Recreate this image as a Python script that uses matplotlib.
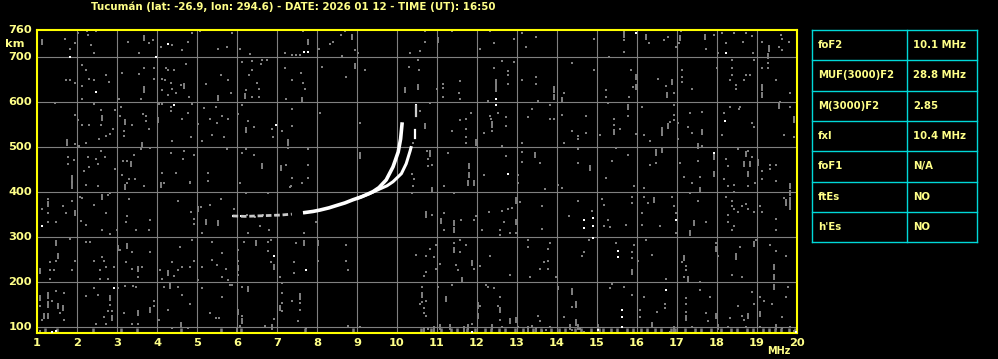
import numpy as np
import matplotlib
matplotlib.use("Agg")
import matplotlib.pyplot as plt

W, H = 998, 359

# ---- data ----
title = "Tucumán (lat: -26.9, lon: 294.6) - DATE: 2026 01 12 - TIME (UT): 16:50"
freq_ticks = list(range(1, 21))
height_ticks = [100, 200, 300, 400, 500, 600, 700, 760]

param_names = ["foF2", "MUF(3000)F2", "M(3000)F2", "fxI", "foF1", "ftEs", "h'Es"]
param_values = ["10.1 MHz", "28.8 MHz", "2.85", "10.4 MHz", "N/A", "NO", "NO"]

# O-mode trace (weak lower part, then strong part)
o_weak_f = [5.89, 6.2, 6.5, 6.8, 7.1, 7.37]
o_weak_h = [347, 346, 347, 348, 349, 351]
o_f = [7.65, 7.9, 8.07, 8.3, 8.48, 8.7, 8.9, 9.1, 9.23, 9.4, 9.55, 9.73, 9.9, 10.03, 10.09, 10.13]
o_h = [354, 357, 360, 365, 370, 376, 383, 389, 394, 401, 410, 427, 456, 489, 518, 555]
# X-mode trace
x_f = [9.0, 9.3, 9.57, 9.75, 9.9, 10.11, 10.23, 10.33, 10.36]
x_h = [386, 396, 407, 414, 423, 441, 463, 492, 502]
x_top_f = [10.44, 10.44]
x_top_h = [520, 538]
x_top2_f = [10.48, 10.48]
x_top2_h = [568, 592]

# scattered noise: single dots (freq MHz, height km)
noise_dots = [
    (1.69,740),(1.83,717),(1.94,731),(2.03,753),(2.24,757),(2.28,749),(2.35,727),(2.48,757),(2.43,708),(3.28,734),
    (3.55,708),(3.8,731),(3.9,738),(4.1,723),(4.37,726),(4.63,716),(4.78,734),(4.88,753),(5.08,757),(5.53,717),
    (5.75,723),(5.88,753),(6.08,717),(6.33,707),(7.2,708),(2.13,682),(2.23,672),(2.12,635),(2.3,652),(2.43,648),
    (2.73,660),(2.8,644),(2.13,607),(1.73,648),(1.83,648),(1.95,642),(3.13,665),(3.55,662),(3.68,675),(3.93,675),
    (3.93,652),(3.59,607),(3.05,607),(4.22,675),(4.28,671),(4.43,671),(4.13,652),(4.2,648),(4.34,642),(4.38,630),
    (4.13,626),(4.28,615),(4.6,637),(4.73,684),(4.8,611),(4.47,619),(5.23,639),(5.59,661),(5.78,648),(5.84,620),
    (6.13,690),(6.38,691),(6.63,693),(6.75,693),(6.38,671),(6.3,661),(6.6,684),(6.49,643),(6.23,626),(6.38,611),
    (6.55,611),(6.55,628),(7.19,675),(7.23,607),(1.44,598),(1.95,572),(2.03,560),(2.13,548),(2.3,549),(2.43,596),
    (2.6,582),(2.59,549),(2.72,525),(2.55,518),(1.95,507),(2.05,503),(2.23,508),(2.82,528),(2.9,540),(2.95,582),
    (3.1,589),(3.08,568),(3.18,535),(3.18,525),(3.38,548),(3.65,574),(3.72,570),(3.73,557),(3.8,540),(4.34,590),
    (4.34,580),(4.63,563),(4.78,575),(4.87,595),(4.85,523),(4.38,513),(5.03,551),(5.18,587),(5.33,563),(5.48,590),
    (5.5,553),(5.63,570),(5.78,562),(5.38,527),(5.68,522),(5.13,514),(6.02,574),(6.13,593),(6.28,558),(6.43,544),
    (6.87,540),(6.9,523),(7.13,535),(1.78,477),(1.78,463),(1.93,472),(1.88,422),(2.28,477),(2.48,473),(2.59,492),
    (2.7,477),(2.53,462),(2.3,456),(2.18,446),(2.94,451),(3.15,469),(3.25,468),(3.13,437),(3.3,428),(3.45,428),
    (3.43,483),(3.6,496),(3.83,499),(4.13,442),(4.34,486),(4.48,442),(4.68,492),(4.65,473),(4.93,483),(4.83,422),
    (5.28,442),(5.28,425),(5.75,496),(6.13,486),(6.23,495),(6.43,483),(7.23,460),(7.28,499),(4.05,595),(4.12,595),
    (7.65,757),(8.4,734),(8.32,729),(8.69,757),(8.61,749),(8.63,702),(8.05,717),(8.94,716),(9.03,708),(8.13,678),
    (9.19,671),(8.73,656),(7.59,665),(7.38,648),(7.65,643),(7.69,630),(10.33,708),(10.58,713),(10.69,734),(10.69,757),
    (11.38,757),(10.3,678),(10.53,693),(10.55,671),(11.0,628),(11.15,641),(11.15,631),(11.15,611),(11.58,647),(11.55,619),
    (11.58,607),(12.08,717),(12.33,757),(12.43,731),(12.93,740),(13.13,753),(13.23,722),(13.48,744),(12.63,692),(12.93,688),
    (12.43,675),(12.78,670),(12.78,660),(12.78,641),(13.13,648),(13.48,656),(13.48,641),(12.28,602),(13.53,602),
    (7.38,585),(8.08,575),(7.38,546),(9.08,553),(10.58,580),(10.83,598),(11.38,535),(11.58,559),(11.73,563),(11.73,541),
    (11.84,575),(11.73,523),(11.73,508),(12.18,531),(12.32,570),(12.36,563),(12.53,575),(12.73,566),(12.73,546),(12.38,535),
    (12.63,503),(13.13,510),(13.28,566),(13.38,585),(7.78,496),(7.78,460),(7.78,432),(7.38,432),(10.4,508),(10.75,492),
    (10.78,473),(10.78,458),(10.88,460),(10.38,441),(10.43,428),(11.28,486),(12.18,438),(12.73,481),(13.13,488),(13.13,467),
    (13.03,437),(13.58,464),(7.38,705),(7.48,705),(7.58,705),
    (16.68,738),(16.78,744),(17.05,731),(17.1,757),(17.92,750),(18.13,753),(18.23,731),(18.42,753),(18.72,753),(18.88,746),
    (18.65,734),(19.13,734),(19.6,750),(19.63,740),(19.79,734),(19.55,722),(19.63,716),(14.93,740),(15.68,738),(15.68,712),
    (16.29,731),(16.98,723),(17.72,717),(18.03,708),(18.9,708),(14.38,687),(14.93,671),(15.29,700),(15.85,672),(15.9,634),
    (16.53,652),(16.73,635),(16.93,619),(17.13,671),(17.13,656),(17.13,645),(17.38,630),(18.0,675),(18.38,693),(18.38,675),
    (18.38,661),(18.33,648),(18.48,637),(18.48,630),(18.67,648),(18.73,660),(18.83,660),(18.93,693),(19.13,675),(19.28,687),
    (19.28,675),(19.48,648),(19.83,620),(14.18,620),(15.23,626),(15.23,611),(15.8,611),(15.28,598),(13.83,594),(13.83,563),
    (13.93,563),(14.13,572),(14.73,569),(14.38,535),(14.53,525),(14.53,517),(14.73,531),(14.18,508),(15.08,527),(15.43,563),
    (15.43,549),(15.58,540),(15.78,568),(15.98,528),(16.13,589),(16.18,527),(16.33,513),(16.63,527),(16.83,555),(16.93,559),
    (16.93,571),(17.03,553),(16.93,594),(17.33,575),(17.28,544),(17.63,578),(17.38,531),(17.03,517),(18.13,527),(18.18,575),
    (18.33,589),(18.55,585),(18.58,589),(18.88,553),(18.93,544),(19.68,527),(19.83,589),(19.93,522),(19.58,600),(14.53,495),
    (14.53,464),(15.22,432),(15.38,469),(15.78,483),(15.48,499),(16.33,461),(16.48,464),(17.08,464),(17.18,434),(17.63,503),
    (17.53,468),(17.58,434),(18.23,473),(18.28,458),(18.18,430),(18.53,496),(18.78,491),(18.88,478),(19.13,447),(19.33,461),
    (19.48,461),(19.33,451),(19.13,428),
    (2.23,416),(2.53,413),(2.83,398),(3.25,421),(3.68,414),(4.18,421),(4.83,421),(5.28,424),(6.08,421),(6.23,399),
    (6.78,399),(7.33,412),(1.28,384),(1.13,362),(1.28,353),(1.28,333),(1.48,333),(1.65,368),(1.73,353),(1.88,381),
    (2.08,390),(2.12,386),(2.43,372),(2.73,353),(2.78,394),(2.23,327),(2.09,336),(2.63,316),(2.82,307),(3.0,316),
    (3.25,346),(3.23,333),(3.31,384),(3.48,316),(3.8,316),(3.83,337),(4.53,381),(4.85,355),(4.93,340),(4.93,329),
    (5.1,366),(5.33,372),(5.13,310),(5.6,384),(5.93,362),(6.28,310),(6.58,324),(6.8,316),(1.48,248),(1.33,244),
    (1.33,226),(1.43,226),(1.33,208),(1.88,226),(1.95,248),(1.83,296),(2.23,290),(2.33,290),(2.43,248),(2.63,255),
    (2.68,246),(2.73,233),(2.58,226),(2.58,208),(2.78,208),(2.93,233),(3.08,272),(3.23,244),(3.38,266),(3.38,229),
    (3.63,233),(3.53,212),(3.83,266),(4.08,226),(4.13,207),(4.38,244),(4.43,214),(4.53,227),(4.63,233),(4.58,279),
    (4.83,233),(4.93,248),(4.88,293),(5.03,205),(5.13,233),(5.38,290),(5.38,250),(5.5,239),(5.63,264),(5.73,229),
    (5.78,205),(5.63,211),(6.03,272),(6.03,248),(6.03,216),(6.18,290),(6.78,290),(6.78,270),(6.85,244),(7.08,212),
    (6.84,293),(1.08,146),(1.38,157),(1.48,181),(1.68,175),(1.58,131),(1.13,116),(1.68,116),(1.08,92),(2.23,170),
    (2.43,187),(2.53,172),(2.83,150),(2.78,135),(2.88,135),(2.68,122),(2.48,107),(2.73,108),(3.03,187),(3.2,192),
    (3.4,192),(3.48,190),(3.18,131),(3.38,108),(3.52,108),(3.93,157),(3.93,147),(4.05,116),(4.18,190),(4.53,190),
    (4.63,172),(4.28,138),(4.83,152),(4.38,99),(4.78,99),(5.13,187),(5.33,131),(5.47,121),(5.55,121),(5.63,168),
    (5.83,194),(5.88,194),(6.13,190),(6.13,124),(6.08,102),(6.7,103),(6.93,117),(7.13,198),(7.13,175),(7.13,153),
    (7.13,135),(6.25,348),(6.45,345),(6.65,350),(6.95,349),
    (7.36,413),(7.63,421),(10.4,413),(10.38,399),(11.18,413),(11.43,398),(13.03,421),(13.69,407),(7.68,353),(7.98,333),
    (7.68,310),(7.48,288),(8.73,283),(8.03,248),(7.43,244),(7.43,221),(8.78,226),(8.73,248),(10.88,350),(11.18,353),
    (11.18,315),(11.6,337),(11.93,338),(11.98,346),(12.3,355),(12.13,315),(12.63,357),(12.78,362),(12.88,364),(12.68,333),
    (12.58,315),(12.58,305),(12.83,310),(12.98,310),(13.08,377),(13.63,368),(13.63,318),(10.48,261),(10.73,257),(10.83,273),
    (10.93,255),(10.98,283),(10.98,229),(11.08,241),(10.73,222),(10.68,213),(11.43,288),(11.58,266),(11.48,238),(11.53,226),
    (11.93,229),(12.08,235),(11.58,294),(11.73,283),(12.33,257),(13.28,294),(13.28,279),(13.33,211),(13.58,229),(13.68,244),
    (12.83,216),(7.58,153),(7.58,138),(7.38,157),(7.53,113),(7.73,98),(8.78,103),(9.08,100),(10.63,190),(10.63,155),
    (10.58,152),(10.68,142),(10.68,131),(10.73,124),(10.73,157),(10.78,95),(11.03,190),(11.38,194),(11.88,107),(12.08,148),
    (12.23,194),(12.28,190),(12.43,187),(12.58,168),(12.58,116),(12.53,146),(12.63,101),(13.03,101),(13.38,103),(13.53,125),
    (13.63,92),(13.58,113),
    (14.03,416),(14.13,409),(15.93,413),(16.18,409),(17.38,421),(17.33,398),(18.28,413),(18.43,416),(18.43,401),(18.78,413),
    (18.95,421),(19.48,424),(14.53,381),(14.29,347),(14.79,293),(14.88,359),(15.13,384),(15.18,372),(15.17,325),(15.28,338),
    (15.33,322),(15.73,326),(15.88,390),(15.88,376),(16.13,353),(16.13,326),(16.18,390),(16.28,376),(16.58,324),(16.88,390),
    (16.93,368),(16.98,353),(16.98,309),(17.73,333),(17.53,380),(18.23,390),(18.38,381),(18.38,368),(18.28,350),(18.28,333),
    (18.43,362),(18.53,355),(18.63,368),(18.73,374),(18.78,362),(18.92,355),(19.08,368),(19.13,355),(18.38,316),(18.43,324),
    (19.48,340),(19.48,315),(19.68,387),(13.83,288),(13.78,273),(13.78,248),(13.78,229),(13.98,212),(14.68,266),(14.63,257),
    (15.48,288),(15.88,266),(15.93,283),(15.88,254),(16.03,246),(16.38,261),(16.23,293),(17.13,244),(17.23,236),(17.23,226),
    (17.18,212),(17.98,287),(18.03,257),(18.58,279),(18.63,212),(18.98,293),(19.33,283),(19.48,270),(19.73,258),(18.37,215),
    (14.03,190),(14.03,184),(14.38,144),(14.18,122),(14.38,94),(13.83,101),(13.73,94),(14.58,95),(14.68,90),(15.38,196),
    (15.33,187),(15.68,190),(15.88,172),(16.08,138),(16.08,122),(16.18,168),(16.73,208),(16.71,151),(16.71,142),(16.51,134),
    (16.83,90),(17.23,164),(17.23,151),(17.23,134),(17.38,101),(17.58,201),(17.58,182),(17.73,131),(17.78,113),(17.83,168),
    (18.33,120),(18.28,101),(18.53,147),(18.63,125),(18.68,116),(18.73,101),(18.93,151),(18.88,179),(19.08,168),(19.18,157),
    (19.08,101),(19.38,151),(19.63,122),(19.78,189),(19.73,168),(19.63,97),(19.83,101),(19.93,92),
]

# short vertical streaks
noise_streaks = [
    (1.13,734),(3.68,742),(3.68,628),(4.68,635),(5.53,609),(6.2,613),(2.63,565),(1.76,510),(3.2,555),(3.63,505),
    (4.03,560),(6.22,538),(7.28,510),(1.88,432),(3.34,462),(6.63,458),(7.1,453),
    (7.78,734),(8.88,745),(8.94,680),(7.63,605),(11.03,738),(10.19,626),(10.53,634),(12.48,645),(12.48,630),(10.69,547),
    (10.48,578),(11.98,510),(12.38,550),(9.08,481),(10.83,486),(11.8,458),(11.8,438),(13.44,483),
    (15.68,750),(16.23,744),(17.08,742),(17.69,744),(19.29,719),(19.28,703),(15.98,656),(15.98,634),(16.88,645),(16.75,615),
    (19.13,632),(19.13,615),(13.93,628),(13.93,611),(14.13,605),(15.43,533),(15.78,589),(16.63,537),(16.78,547),(17.63,533),
    (19.93,561),(19.54,592),(14.83,453),(16.48,488),(16.63,493),(17.53,503),(17.93,478),(17.93,440),(18.73,485),(18.83,462),
    (18.68,462),(19.03,466),(18.78,440),
    (1.88,414),(3.2,411),(4.1,416),(1.28,374),(1.95,353),(2.63,389),(5.03,362),(5.23,333),(5.53,331),(1.48,287),
    (1.53,258),(1.08,224),(3.03,276),(3.25,281),(3.53,229),(4.28,220),(6.03,231),(6.48,287),(6.93,233),(1.08,164),
    (1.28,170),(1.28,150),(1.28,124),(1.53,147),(1.65,142),(1.18,124),(2.82,164),(2.88,120),(3.53,131),(3.83,138),
    (4.32,192),(4.6,105),(6.28,184),(6.03,133),(6.13,113),(6.0,90),(6.88,101),(7.08,142),
    (10.88,405),(11.78,420),(11.93,420),(7.68,287),(8.03,287),(10.73,350),(11.1,335),(11.43,331),(11.43,316),(12.98,333),
    (12.98,381),(11.43,272),(11.88,242),(11.63,205),(7.58,168),(10.63,172),(10.68,94),(10.93,95),(11.23,162),(11.08,101),
    (11.33,101),(11.68,95),(11.78,101),(12.03,148),(12.03,124),(12.38,101),(12.58,138),(12.83,114),(12.98,116),(13.28,95),
    (13.48,92),
    (17.58,405),(19.83,413),(19.83,398),(16.43,383),(17.33,309),(17.43,331),(19.73,377),(19.83,368),(19.83,381),(15.88,223),
    (17.18,254),(17.28,207),(17.98,273),(18.48,257),(18.93,285),(19.43,233),(19.43,212),(14.37,179),(14.48,150),(14.48,110),
    (14.33,101),(14.53,101),(15.03,101),(16.38,105),(16.93,95),(17.23,120),(17.98,125),(18.03,101),(18.78,124),(19.08,129),
    (19.43,189),(19.48,101),
]

# clutter along the bottom edge (freq MHz at ~93 km)
bottom_clutter_f = [1.2, 1.5, 2.4, 3.1, 3.5, 4.6, 5.6, 6.1, 7.7, 8.9, 10.6, 10.85, 11.1, 11.35, 11.5, 11.75,
                    11.95, 12.2, 12.35, 12.55, 12.7, 12.95, 13.15, 13.4, 13.6, 13.85, 14.05, 14.2, 14.45, 14.6,
                    14.85, 15.05, 15.15, 15.35, 15.5, 15.75, 15.9, 16.1, 16.25, 16.45, 16.6, 16.85, 16.95, 17.2,
                    17.45, 17.6, 17.85, 18.1, 18.35, 18.5, 18.75, 18.9, 19.15, 19.3, 19.45, 19.6, 19.8, 19.95]

# brighter (white) isolated echoes
white_dots = [
    (4.28,729),(1.83,699),(3.97,699),(2.48,622),(4.43,594),(6.98,548),(7.68,712),(7.78,712),(12.48,607),(12.48,594),
    (12.78,441),(15.98,753),(18.23,708),(18.19,558),(17.93,486),(1.13,324),(6.93,257),(2.93,187),(1.38,90),(1.48,92),
    (7.73,227),(11.88,90),(14.68,338),(14.68,320),(14.9,342),(14.9,324),(14.9,298),(15.53,269),(15.53,255),(15.63,138),
    (15.63,122),(15.63,100),(16.73,182),(16.98,337),(15.03,94),(19.98,90),(10.48,593),(5.89,347),(6.1,346),
]

# ---- figure ----
plt.rcParams['font.family'] = ['DejaVu Sans']
YEL = '#ffff00'
TXT = '#ffff88'
GRAY = '#808080'
CYAN = '#00d8d8'

fig = plt.figure(figsize=(W / 100, H / 100), dpi=100, facecolor='black')

def fx(px):
    return px / W

def fy(py):
    return 1 - py / H

ax = fig.add_axes([fx(37), fy(333), (797 - 37) / W, (333 - 30) / H], facecolor='black')
ax.set_xlim(1, 20)
ax.set_ylim(87, 760)

for f in freq_ticks[1:-1]:
    ax.axvline(f, color=GRAY, lw=0.8, zorder=1)
for h in height_ticks[:-1]:
    ax.axhline(h, color=GRAY, lw=0.8, zorder=1)

nd = np.array(noise_dots)
ax.scatter(nd[:, 0], nd[:, 1], s=3.0, marker='s', c=GRAY, lw=0, zorder=2)
ns = np.array(noise_streaks)
ax.vlines(ns[:, 0], ns[:, 1] - 7, ns[:, 1] + 7, color=GRAY, lw=1.4, zorder=2)
bc = np.array(bottom_clutter_f)
ax.vlines(bc, 88, 98, color=GRAY, lw=1.8, zorder=2)
wd = np.array(white_dots)
ax.scatter(wd[:, 0], wd[:, 1], s=3.5, marker='s', c='white', lw=0, zorder=3)

ax.plot(o_weak_f, o_weak_h, color='#c8c8c8', lw=2.0, ls=(0, (2, 1)), zorder=4)
ax.plot(o_f, o_h, color='white', lw=2.6, zorder=4, solid_capstyle='butt')
ax.plot(x_f, x_h, color='white', lw=2.2, zorder=4, solid_capstyle='butt')
ax.plot(x_top_f, x_top_h, color='white', lw=1.6, zorder=4)
ax.plot(x_top2_f, x_top2_h, color='#cccccc', lw=1.6, zorder=4)

for s in ax.spines.values():
    s.set_color(YEL)
    s.set_linewidth(1.5)
ax.set_xticks([])
ax.set_yticks([])

# tick labels as text in figure pixels
for f in freq_ticks:
    px = 37 + (f - 1) * 40
    fig.text(fx(px), fy(343), str(f), color=TXT, fontsize=8.2, fontweight='bold',
             ha='center', va='center')
for h in height_ticks:
    py = 333 - (h - 87) * (303 / 673)
    fig.text(fx(32), fy(py), str(h), color=TXT, fontsize=8.2, fontweight='bold',
             ha='right', va='center')
fig.text(fx(5), fy(44), 'km', color=TXT, fontsize=8.2, fontweight='bold', ha='left', va='center')
fig.text(fx(767), fy(351), 'MHz', color=TXT, fontsize=7, fontweight='bold', ha='left', va='center')

fig.text(fx(91), fy(7), title, color=TXT, fontsize=7.4, fontweight='bold', ha='left', va='center')

# parameter table
tx0, tx1, tx2 = 812, 907, 977
ty0, row_h = 30, 30.3
n = len(param_names)
for i in range(n + 1):
    y = ty0 + i * row_h
    fig.add_artist(plt.Line2D([fx(tx0), fx(tx2)], [fy(y), fy(y)], color=CYAN, lw=1.0))
for x in (tx0, tx1, tx2):
    fig.add_artist(plt.Line2D([fx(x), fx(x)], [fy(ty0), fy(ty0 + n * row_h)], color=CYAN, lw=1.0))
for i, (name, val) in enumerate(zip(param_names, param_values)):
    yc = ty0 + (i + 0.5) * row_h
    fig.text(fx(818), fy(yc), name, color=TXT, fontsize=7.3, fontweight='bold', ha='left', va='center')
    fig.text(fx(913), fy(yc), val, color=TXT, fontsize=7.3, fontweight='bold', ha='left', va='center')

fig.savefig('out.png', dpi=100, facecolor='black')
